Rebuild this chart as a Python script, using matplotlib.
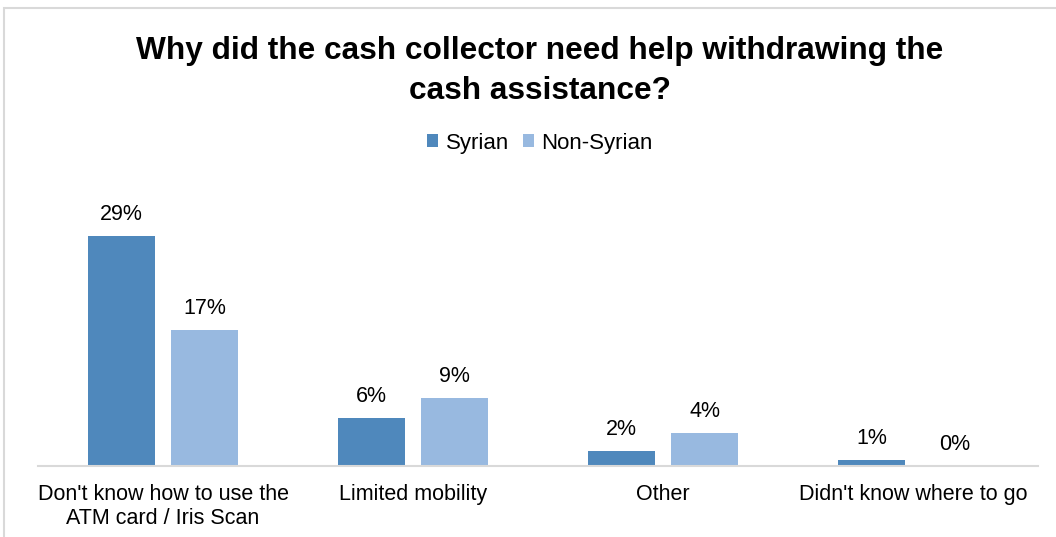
import matplotlib
matplotlib.use("Agg")
import matplotlib.pyplot as plt
import numpy as np
from matplotlib.patches import Rectangle

categories = ["Don't know how to use the\nATM card / Iris Scan", "Limited mobility", "Other", "Didn't know where to go"]
series_names = ["Syrian", "Non-Syrian"]
syrian = [29.0, 6.1, 1.9, 0.7]
non_syrian = [17.1, 8.6, 4.1, 0.0]
colors = ["#4F88BC", "#98B9E0"]
title = "Why did the cash collector need help withdrawing the\ncash assistance?"

plt.rcParams['font.family'] = ['Liberation Sans', 'DejaVu Sans']

W, H = 1056, 537
fig = plt.figure(figsize=(W / 100, H / 100), dpi=100)

# outer border
fig.patches.append(Rectangle((4 / W, -0.05), 1.1, 1 - 8 / H + 0.05, transform=fig.transFigure,
                             fill=False, edgecolor="#D9D9D9", linewidth=1.5))

ax = fig.add_axes([38 / W, (H - 466) / H, 1000 / W, 266 / H])
x = np.arange(len(categories))
bw = 67 / 250
gap = 16 / 250
off = (bw + gap) / 2
for vals, c, name, s in [(syrian, colors[0], series_names[0], -1), (non_syrian, colors[1], series_names[1], 1)]:
    bars = ax.bar(x + s * off, vals, width=bw, color=c, label=name)
    for xi, v in zip(x + s * off, vals):
        ax.annotate(f"{v:.0f}%", (xi, v), xytext=(0, 8), textcoords="offset points",
                    ha="center", va="bottom", fontsize=15.5, color="#000000")

ax.set_xlim(-0.5, len(categories) - 0.5)
ax.set_ylim(0, 266 / 7.93)
ax.set_yticks([])
ax.set_xticks(x)
ax.set_xticklabels(categories, fontsize=15.5)
ax.tick_params(axis="x", length=0, pad=13)
for sp in ["top", "right", "left"]:
    ax.spines[sp].set_visible(False)
ax.spines["bottom"].set_color("#D9D9D9")
ax.spines["bottom"].set_linewidth(1.5)

fig.text(540 / W, 1 - 71 / H, title, ha="center", va="center", fontsize=22.8, fontweight="bold",
         linespacing=1.4)

leg = fig.legend(loc="center", bbox_to_anchor=(540 / W, 1 - 143 / H), ncol=2, frameon=False,
                 fontsize=16, handlelength=0.5, handleheight=0.5, handletextpad=0.35,
                 columnspacing=0.6)

fig.savefig("out.png", dpi=100)
